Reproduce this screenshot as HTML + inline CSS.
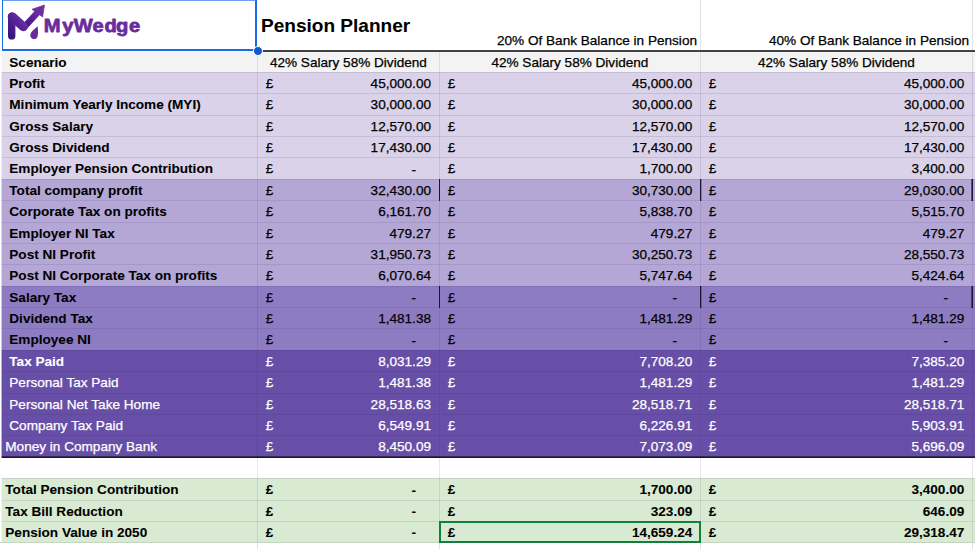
<!DOCTYPE html>
<html><head><meta charset="utf-8"><title>Pension Planner</title>
<style>
html,body{margin:0;padding:0;background:#fff;}
body{width:975px;height:549px;position:relative;overflow:hidden;font-family:"Liberation Sans",Arial,sans-serif;font-size:13.59px;color:#000;}
.r{position:absolute;left:0;width:975px;}
.t{position:absolute;white-space:nowrap;line-height:16px;height:16px;-webkit-text-stroke:0.25px currentColor;}
.n{position:absolute;white-space:nowrap;line-height:16px;height:16px;text-align:right;-webkit-text-stroke:0.25px currentColor;}
.b{font-weight:bold;-webkit-text-stroke:0.08px currentColor;}
.w{color:#fff;}
.h{position:absolute;height:1px;}
.v{position:absolute;width:1px;}
</style></head><body>

<div class="r" style="top:52px;height:20px;background:#f3f3f3"></div>
<div class="r" style="top:72px;height:21px;background:#d9d2e9"></div>
<div class="r" style="top:93px;height:22px;background:#d9d2e9"></div>
<div class="r" style="top:115px;height:21px;background:#d9d2e9"></div>
<div class="r" style="top:136px;height:21px;background:#d9d2e9"></div>
<div class="r" style="top:157px;height:22px;background:#d9d2e9"></div>
<div class="r" style="top:179px;height:21px;background:#b4a7d6"></div>
<div class="r" style="top:200px;height:22px;background:#b4a7d6"></div>
<div class="r" style="top:222px;height:21px;background:#b4a7d6"></div>
<div class="r" style="top:243px;height:21px;background:#b4a7d6"></div>
<div class="r" style="top:264px;height:22px;background:#b4a7d6"></div>
<div class="r" style="top:286px;height:21px;background:#8e7cc3"></div>
<div class="r" style="top:307px;height:21px;background:#8e7cc3"></div>
<div class="r" style="top:328px;height:22px;background:#8e7cc3"></div>
<div class="r" style="top:350px;height:21px;background:#674ea7"></div>
<div class="r" style="top:371px;height:22px;background:#674ea7"></div>
<div class="r" style="top:393px;height:21px;background:#674ea7"></div>
<div class="r" style="top:414px;height:21px;background:#674ea7"></div>
<div class="r" style="top:435px;height:22px;background:#674ea7"></div>
<div class="r" style="top:457px;height:21px;background:#ffffff"></div>
<div class="r" style="top:478px;height:22px;background:#d9ead3"></div>
<div class="r" style="top:500px;height:21px;background:#d9ead3"></div>
<div class="r" style="top:521px;height:21px;background:#d9ead3"></div>
<div class="v" style="left:700px;top:0;height:50px;background:#e1e1e1"></div>
<div class="v" style="left:972px;top:0;height:50px;background:#e1e1e1"></div>
<div class="v" style="left:257px;top:52px;height:490px;background:rgba(40,20,80,0.10)"></div>
<div class="v" style="left:257px;top:542px;height:7px;background:#e1e1e1"></div>
<div class="v" style="left:439px;top:52px;height:490px;background:rgba(40,20,80,0.10)"></div>
<div class="v" style="left:439px;top:542px;height:7px;background:#e1e1e1"></div>
<div class="v" style="left:700px;top:52px;height:490px;background:rgba(40,20,80,0.10)"></div>
<div class="v" style="left:700px;top:542px;height:7px;background:#e1e1e1"></div>
<div class="v" style="left:972px;top:52px;height:490px;background:rgba(40,20,80,0.10)"></div>
<div class="v" style="left:972px;top:542px;height:7px;background:#e1e1e1"></div>
<div class="h" style="left:0;top:72px;width:975px;background:rgba(40,20,80,0.10)"></div>
<div class="h" style="left:0;top:93px;width:975px;background:rgba(40,20,80,0.10)"></div>
<div class="h" style="left:0;top:115px;width:975px;background:rgba(40,20,80,0.10)"></div>
<div class="h" style="left:0;top:136px;width:975px;background:rgba(40,20,80,0.10)"></div>
<div class="h" style="left:0;top:157px;width:975px;background:rgba(40,20,80,0.10)"></div>
<div class="h" style="left:0;top:179px;width:975px;background:rgba(40,20,80,0.10)"></div>
<div class="h" style="left:0;top:200px;width:975px;background:rgba(40,20,80,0.10)"></div>
<div class="h" style="left:0;top:222px;width:975px;background:rgba(40,20,80,0.10)"></div>
<div class="h" style="left:0;top:243px;width:975px;background:rgba(40,20,80,0.10)"></div>
<div class="h" style="left:0;top:264px;width:975px;background:rgba(40,20,80,0.10)"></div>
<div class="h" style="left:0;top:286px;width:975px;background:rgba(40,20,80,0.10)"></div>
<div class="h" style="left:0;top:307px;width:975px;background:rgba(40,20,80,0.10)"></div>
<div class="h" style="left:0;top:328px;width:975px;background:rgba(40,20,80,0.10)"></div>
<div class="h" style="left:0;top:350px;width:975px;background:rgba(40,20,80,0.10)"></div>
<div class="h" style="left:0;top:371px;width:975px;background:rgba(40,20,80,0.10)"></div>
<div class="h" style="left:0;top:393px;width:975px;background:rgba(40,20,80,0.10)"></div>
<div class="h" style="left:0;top:414px;width:975px;background:rgba(40,20,80,0.10)"></div>
<div class="h" style="left:0;top:435px;width:975px;background:rgba(40,20,80,0.10)"></div>
<div class="h" style="left:0;top:478px;width:975px;background:rgba(40,20,80,0.10)"></div>
<div class="h" style="left:0;top:500px;width:975px;background:rgba(40,20,80,0.10)"></div>
<div class="h" style="left:0;top:521px;width:975px;background:rgba(40,20,80,0.10)"></div>
<div class="h" style="left:0;top:542px;width:975px;background:#c6d5c1"></div>
<div style="position:absolute;left:258px;top:50px;width:717px;height:2px;background:#424242"></div>
<div style="position:absolute;left:0;top:456px;width:975px;height:1px;background:rgba(20,20,24,0.6)"></div>
<div style="position:absolute;left:0;top:457px;width:975px;height:1px;background:#1b1b1e"></div>
<div style="position:absolute;left:439px;top:179px;width:1px;height:22px;background:rgba(28,20,52,1.0)"></div>
<div style="position:absolute;left:700px;top:179px;width:1px;height:22px;background:rgba(28,20,52,1.0)"></div>
<div style="position:absolute;left:701px;top:179px;width:1px;height:22px;background:rgba(28,20,52,0.3)"></div>
<div style="position:absolute;left:971px;top:179px;width:1px;height:22px;background:rgba(28,20,52,0.6)"></div>
<div style="position:absolute;left:972px;top:179px;width:1px;height:22px;background:rgba(28,20,52,1.0)"></div>
<div style="position:absolute;left:439px;top:286px;width:1px;height:22px;background:rgba(28,20,52,1.0)"></div>
<div style="position:absolute;left:700px;top:286px;width:1px;height:22px;background:rgba(28,20,52,1.0)"></div>
<div style="position:absolute;left:701px;top:286px;width:1px;height:22px;background:rgba(28,20,52,0.3)"></div>
<div style="position:absolute;left:971px;top:286px;width:1px;height:22px;background:rgba(28,20,52,0.6)"></div>
<div style="position:absolute;left:972px;top:286px;width:1px;height:22px;background:rgba(28,20,52,1.0)"></div>
<div class="t b" style="left:9.3px;top:55.2px">Scenario</div>
<div class="t" style="left:257.4px;width:182px;text-align:center;top:55.2px">42% Salary 58% Dividend</div>
<div class="t" style="left:439.4px;width:261px;text-align:center;top:55.2px">42% Salary 58% Dividend</div>
<div class="t" style="left:700.4px;width:272px;text-align:center;top:55.2px">42% Salary 58% Dividend</div>
<div class="t b" style="left:9.3px;top:75.7px">Profit</div>
<div class="t " style="left:265.7px;top:75.7px">£</div>
<div class="n " style="left:311.0px;width:120px;top:75.7px">45,000.00</div>
<div class="t " style="left:447.8px;top:75.7px">£</div>
<div class="n " style="left:572.3px;width:120px;top:75.7px">45,000.00</div>
<div class="t " style="left:708.8px;top:75.7px">£</div>
<div class="n " style="left:844.3px;width:120px;top:75.7px">45,000.00</div>
<div class="t b" style="left:9.3px;top:97.2px">Minimum Yearly Income (MYI)</div>
<div class="t " style="left:265.7px;top:97.2px">£</div>
<div class="n " style="left:311.0px;width:120px;top:97.2px">30,000.00</div>
<div class="t " style="left:447.8px;top:97.2px">£</div>
<div class="n " style="left:572.3px;width:120px;top:97.2px">30,000.00</div>
<div class="t " style="left:708.8px;top:97.2px">£</div>
<div class="n " style="left:844.3px;width:120px;top:97.2px">30,000.00</div>
<div class="t b" style="left:9.3px;top:118.7px">Gross Salary</div>
<div class="t " style="left:265.7px;top:118.7px">£</div>
<div class="n " style="left:311.0px;width:120px;top:118.7px">12,570.00</div>
<div class="t " style="left:447.8px;top:118.7px">£</div>
<div class="n " style="left:572.3px;width:120px;top:118.7px">12,570.00</div>
<div class="t " style="left:708.8px;top:118.7px">£</div>
<div class="n " style="left:844.3px;width:120px;top:118.7px">12,570.00</div>
<div class="t b" style="left:9.3px;top:139.7px">Gross Dividend</div>
<div class="t " style="left:265.7px;top:139.7px">£</div>
<div class="n " style="left:311.0px;width:120px;top:139.7px">17,430.00</div>
<div class="t " style="left:447.8px;top:139.7px">£</div>
<div class="n " style="left:572.3px;width:120px;top:139.7px">17,430.00</div>
<div class="t " style="left:708.8px;top:139.7px">£</div>
<div class="n " style="left:844.3px;width:120px;top:139.7px">17,430.00</div>
<div class="t b" style="left:9.3px;top:161.2px">Employer Pension Contribution</div>
<div class="t " style="left:265.7px;top:161.2px">£</div>
<div class="n " style="left:296px;width:120px;top:161.9px">-</div>
<div class="t " style="left:447.8px;top:161.2px">£</div>
<div class="n " style="left:572.3px;width:120px;top:161.2px">1,700.00</div>
<div class="t " style="left:708.8px;top:161.2px">£</div>
<div class="n " style="left:844.3px;width:120px;top:161.2px">3,400.00</div>
<div class="t b" style="left:9.3px;top:182.7px">Total company profit</div>
<div class="t " style="left:265.7px;top:182.7px">£</div>
<div class="n " style="left:311.0px;width:120px;top:182.7px">32,430.00</div>
<div class="t " style="left:447.8px;top:182.7px">£</div>
<div class="n " style="left:572.3px;width:120px;top:182.7px">30,730.00</div>
<div class="t " style="left:708.8px;top:182.7px">£</div>
<div class="n " style="left:844.3px;width:120px;top:182.7px">29,030.00</div>
<div class="t b" style="left:9.3px;top:204.2px">Corporate Tax on profits</div>
<div class="t " style="left:265.7px;top:204.2px">£</div>
<div class="n " style="left:311.0px;width:120px;top:204.2px">6,161.70</div>
<div class="t " style="left:447.8px;top:204.2px">£</div>
<div class="n " style="left:572.3px;width:120px;top:204.2px">5,838.70</div>
<div class="t " style="left:708.8px;top:204.2px">£</div>
<div class="n " style="left:844.3px;width:120px;top:204.2px">5,515.70</div>
<div class="t b" style="left:9.3px;top:225.7px">Employer NI Tax</div>
<div class="t " style="left:265.7px;top:225.7px">£</div>
<div class="n " style="left:311.0px;width:120px;top:225.7px">479.27</div>
<div class="t " style="left:447.8px;top:225.7px">£</div>
<div class="n " style="left:572.3px;width:120px;top:225.7px">479.27</div>
<div class="t " style="left:708.8px;top:225.7px">£</div>
<div class="n " style="left:844.3px;width:120px;top:225.7px">479.27</div>
<div class="t b" style="left:9.3px;top:246.7px">Post NI Profit</div>
<div class="t " style="left:265.7px;top:246.7px">£</div>
<div class="n " style="left:311.0px;width:120px;top:246.7px">31,950.73</div>
<div class="t " style="left:447.8px;top:246.7px">£</div>
<div class="n " style="left:572.3px;width:120px;top:246.7px">30,250.73</div>
<div class="t " style="left:708.8px;top:246.7px">£</div>
<div class="n " style="left:844.3px;width:120px;top:246.7px">28,550.73</div>
<div class="t b" style="left:9.3px;top:268.2px">Post NI Corporate Tax on profits</div>
<div class="t " style="left:265.7px;top:268.2px">£</div>
<div class="n " style="left:311.0px;width:120px;top:268.2px">6,070.64</div>
<div class="t " style="left:447.8px;top:268.2px">£</div>
<div class="n " style="left:572.3px;width:120px;top:268.2px">5,747.64</div>
<div class="t " style="left:708.8px;top:268.2px">£</div>
<div class="n " style="left:844.3px;width:120px;top:268.2px">5,424.64</div>
<div class="t b" style="left:9.3px;top:289.7px">Salary Tax</div>
<div class="t " style="left:265.7px;top:289.7px">£</div>
<div class="n " style="left:296px;width:120px;top:290.4px">-</div>
<div class="t " style="left:447.8px;top:289.7px">£</div>
<div class="n " style="left:557px;width:120px;top:290.4px">-</div>
<div class="t " style="left:708.8px;top:289.7px">£</div>
<div class="n " style="left:828px;width:120px;top:290.4px">-</div>
<div class="t b" style="left:9.3px;top:310.7px">Dividend Tax</div>
<div class="t " style="left:265.7px;top:310.7px">£</div>
<div class="n " style="left:311.0px;width:120px;top:310.7px">1,481.38</div>
<div class="t " style="left:447.8px;top:310.7px">£</div>
<div class="n " style="left:572.3px;width:120px;top:310.7px">1,481.29</div>
<div class="t " style="left:708.8px;top:310.7px">£</div>
<div class="n " style="left:844.3px;width:120px;top:310.7px">1,481.29</div>
<div class="t b" style="left:9.3px;top:332.2px">Employee NI</div>
<div class="t " style="left:265.7px;top:332.2px">£</div>
<div class="n " style="left:296px;width:120px;top:332.9px">-</div>
<div class="t " style="left:447.8px;top:332.2px">£</div>
<div class="n " style="left:557px;width:120px;top:332.9px">-</div>
<div class="t " style="left:708.8px;top:332.2px">£</div>
<div class="n " style="left:828px;width:120px;top:332.9px">-</div>
<div class="t b w" style="left:9.3px;top:353.7px">Tax Paid</div>
<div class="t w" style="left:265.7px;top:353.7px">£</div>
<div class="n w" style="left:311.0px;width:120px;top:353.7px">8,031.29</div>
<div class="t w" style="left:447.8px;top:353.7px">£</div>
<div class="n w" style="left:572.3px;width:120px;top:353.7px">7,708.20</div>
<div class="t w" style="left:708.8px;top:353.7px">£</div>
<div class="n w" style="left:844.3px;width:120px;top:353.7px">7,385.20</div>
<div class="t w" style="left:9.3px;top:375.2px">Personal Tax Paid</div>
<div class="t w" style="left:265.7px;top:375.2px">£</div>
<div class="n w" style="left:311.0px;width:120px;top:375.2px">1,481.38</div>
<div class="t w" style="left:447.8px;top:375.2px">£</div>
<div class="n w" style="left:572.3px;width:120px;top:375.2px">1,481.29</div>
<div class="t w" style="left:708.8px;top:375.2px">£</div>
<div class="n w" style="left:844.3px;width:120px;top:375.2px">1,481.29</div>
<div class="t w" style="left:9.3px;top:396.7px">Personal Net Take Home</div>
<div class="t w" style="left:265.7px;top:396.7px">£</div>
<div class="n w" style="left:311.0px;width:120px;top:396.7px">28,518.63</div>
<div class="t w" style="left:447.8px;top:396.7px">£</div>
<div class="n w" style="left:572.3px;width:120px;top:396.7px">28,518.71</div>
<div class="t w" style="left:708.8px;top:396.7px">£</div>
<div class="n w" style="left:844.3px;width:120px;top:396.7px">28,518.71</div>
<div class="t w" style="left:9.3px;top:417.7px">Company Tax Paid</div>
<div class="t w" style="left:265.7px;top:417.7px">£</div>
<div class="n w" style="left:311.0px;width:120px;top:417.7px">6,549.91</div>
<div class="t w" style="left:447.8px;top:417.7px">£</div>
<div class="n w" style="left:572.3px;width:120px;top:417.7px">6,226.91</div>
<div class="t w" style="left:708.8px;top:417.7px">£</div>
<div class="n w" style="left:844.3px;width:120px;top:417.7px">5,903.91</div>
<div class="t w" style="left:5.3px;top:439.2px">Money in Company Bank</div>
<div class="t w" style="left:265.7px;top:439.2px">£</div>
<div class="n w" style="left:311.0px;width:120px;top:439.2px">8,450.09</div>
<div class="t w" style="left:447.8px;top:439.2px">£</div>
<div class="n w" style="left:572.3px;width:120px;top:439.2px">7,073.09</div>
<div class="t w" style="left:708.8px;top:439.2px">£</div>
<div class="n w" style="left:844.3px;width:120px;top:439.2px">5,696.09</div>
<div class="t b" style="left:5.3px;top:482.2px">Total Pension Contribution</div>
<div class="t b " style="left:265.7px;top:482.2px">£</div>
<div class="n b " style="left:296px;width:120px;top:482.9px">-</div>
<div class="t b " style="left:447.8px;top:482.2px">£</div>
<div class="n b " style="left:572.3px;width:120px;top:482.2px">1,700.00</div>
<div class="t b " style="left:708.8px;top:482.2px">£</div>
<div class="n b " style="left:844.3px;width:120px;top:482.2px">3,400.00</div>
<div class="t b" style="left:5.3px;top:503.7px">Tax Bill Reduction</div>
<div class="t b " style="left:265.7px;top:503.7px">£</div>
<div class="n b " style="left:296px;width:120px;top:504.4px">-</div>
<div class="t b " style="left:447.8px;top:503.7px">£</div>
<div class="n b " style="left:572.3px;width:120px;top:503.7px">323.09</div>
<div class="t b " style="left:708.8px;top:503.7px">£</div>
<div class="n b " style="left:844.3px;width:120px;top:503.7px">646.09</div>
<div class="t b" style="left:5.3px;top:524.7px">Pension Value in 2050</div>
<div class="t b " style="left:265.7px;top:524.7px">£</div>
<div class="n b " style="left:296px;width:120px;top:525.4px">-</div>
<div class="t b " style="left:447.8px;top:524.7px">£</div>
<div class="n b " style="left:572.3px;width:120px;top:524.7px">14,659.24</div>
<div class="t b " style="left:708.8px;top:524.7px">£</div>
<div class="n b " style="left:844.3px;width:120px;top:524.7px">29,318.47</div>
<div class="t b" style="left:261px;top:15px;font-size:19.05px;line-height:22px;height:22px">Pension Planner</div>
<div class="n" style="left:440px;width:257px;top:33.2px">20% Of Bank Balance in Pension</div>
<div class="n" style="left:701px;width:268px;top:33.2px">40% Of Bank Balance in Pension</div>
<svg style="position:absolute;left:0;top:0" width="60" height="50" viewBox="0 0 60 50">
<defs>
<linearGradient id="gs" gradientUnits="userSpaceOnUse" x1="25" y1="27" x2="38" y2="12"><stop offset="0" stop-color="#3a1a80"/><stop offset="0.45" stop-color="#4f2192"/><stop offset="1" stop-color="#6e2da2"/></linearGradient>
<linearGradient id="gb" gradientUnits="userSpaceOnUse" x1="11" y1="40" x2="11" y2="12"><stop offset="0" stop-color="#31137a"/><stop offset="1" stop-color="#5a2497"/></linearGradient>
<linearGradient id="gd" gradientUnits="userSpaceOnUse" x1="6" y1="42" x2="28" y2="24"><stop offset="0.1" stop-color="#2f1276"/><stop offset="0.5" stop-color="#481c8a"/><stop offset="0.78" stop-color="#5a2699"/><stop offset="1" stop-color="#6c32a8"/></linearGradient>
</defs>
<path d="M24.4 26.9 L37.5 12.7" fill="none" stroke="url(#gs)" stroke-width="6.4" stroke-linecap="round"/>
<path d="M44.5 5 L32 9.3 L42.6 17 Z" fill="#6d2ca1" stroke="#6d2ca1" stroke-width="0.7" stroke-linejoin="round"/>
<path d="M12.2 16.7 L23.3 26.7" fill="none" stroke="url(#gd)" stroke-width="9" stroke-linecap="round"/>
<path d="M11.7 16.4 L11.7 35.9" fill="none" stroke="url(#gd)" stroke-width="7.4" stroke-linecap="round"/>
<path d="M37.7 26.3 C37.8 30 38.4 32.2 37.8 35 A3.8 3.8 0 1 1 30.7 33.4 C31.8 30.8 35.2 28.6 37.7 26.3 Z" fill="#69299c"/>
</svg>
<svg style="position:absolute;left:0;top:0" width="160" height="50" viewBox="0 0 160 50"><text transform="scale(1.09,1)" x="40.09 57.06 67.61 84.95 95.78 106.51 118.35" y="32.4" font-family="Liberation Sans, Arial, sans-serif" font-weight="bold" font-size="18.5" fill="#6a2c9d" stroke="#6a2c9d" stroke-width="0.75" stroke-linejoin="round">MyWedge</text></svg>
<div style="position:absolute;left:0;top:52px;width:1px;height:490px;background:#fff"></div>
<div style="position:absolute;left:1px;top:52px;width:1px;height:490px;background:rgba(255,255,255,0.55)"></div>
<div style="position:absolute;left:2px;top:-1px;width:252.2px;height:48.2px;border:2px solid #1a6be6;border-left-width:1.5px;border-top-color:#6c9ff0"></div>
<div style="position:absolute;left:252.9px;top:45.9px;width:8px;height:8px;border-radius:50%;background:#1157ce;border:0.5px solid #fff"></div>
<div style="position:absolute;left:439px;top:521px;width:258px;height:18px;border:2px solid #12803c"></div>
</body></html>
